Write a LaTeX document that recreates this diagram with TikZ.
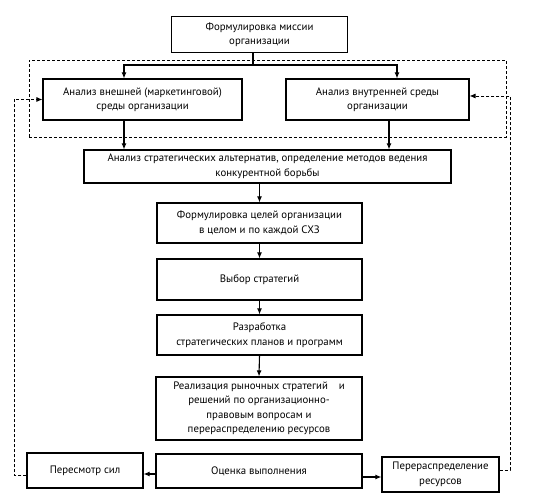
\documentclass[tikz,border=0pt]{standalone}
\usepackage{fontspec}
\setmainfont{PT Sans}
\usetikzlibrary{arrows.meta}
\begin{document}
\begin{tikzpicture}[x=1pt,y=-1pt,
  box/.style={draw, line width=1.1pt, align=center, inner sep=1pt,
    font=\fontsize{10.8}{14.5}\selectfont},
  arr/.style={line width=1.1pt, -{Latex[length=6pt,width=5pt]}},
  ln/.style={line width=1.1pt},
  fb/.style={line width=0.9pt, dash pattern=on 3pt off 2pt, -{Latex[length=6pt,width=5pt]}},
  grpbox/.style={draw, line width=0.9pt, dash pattern=on 3pt off 2pt}]
\useasboundingbox (0,0) rectangle (536,502);
\node[grpbox, minimum width=477pt, minimum height=77pt] (grp) at (267.5,98.5) {};
\node[box, minimum width=176pt, minimum height=36pt] (mission) at (259.5,34.5) {Формулировка миссии\\организации};
\node[box, minimum width=199pt, minimum height=41pt] (ext) at (142.5,99.5) {Анализ внешней (маркетинговой)\\среды организации};
\node[box, minimum width=183pt, minimum height=41pt] (int) at (377.5,99.5) {Анализ внутренней среды\\организации};
\node[box, minimum width=367pt, minimum height=33pt] (big) at (267.5,166.5) {Анализ стратегических альтернатив, определение методов ведения\\конкурентной борьбы};
\node[box, minimum width=205pt, minimum height=40pt] (goals) at (259.5,223) {Формулировка целей организации\\в целом и по каждой СХЗ};
\node[box, minimum width=205pt, minimum height=41pt] (choice) at (259.5,279.5) {Выбор стратегий};
\node[box, minimum width=205pt, minimum height=40pt] (plans) at (259.5,335) {Разработка\\стратегических планов и программ};
\node[box, minimum width=206pt, minimum height=63pt] (impl) at (259,408.5) {Реализация рыночных стратегий\quad и\\решений по организационно-\\правовым вопросам и\\перераспределению ресурсов};
\node[box, minimum width=206pt, minimum height=34pt] (eval) at (259,471) {Оценка выполнения};
\node[box, minimum width=116pt, minimum height=35pt] (review) at (85,470.5) {Пересмотр сил};
\node[box, minimum width=117pt, minimum height=35pt] (realloc) at (440.5,474.5) {Перераспределение\\ресурсов};
\coordinate (sp) at (253,65);
\coordinate (xl) at (124,65);
\coordinate (xr) at (397,65);
\coordinate (xr2) at (389,0);
\coordinate (fl) at (14,0);
\coordinate (fr) at (510,0);
\draw[ln] (mission.south -| sp) -- (sp);
\draw[arr] (sp) -- (xl) -- (ext.north -| xl);
\draw[arr] (sp) -- (xr) -- (int.north -| xr);
\draw[arr] (ext.south -| xl) -- (big.north -| xl);
\draw[arr] (int.south -| xr2) -- (big.north -| xr2);
\draw[arr] (big.south -| goals.north) -- (goals.north);
\draw[arr] (goals.south) -- (choice.north);
\draw[arr] (choice.south) -- (plans.north);
\draw[arr] (plans.south) -- (impl.north);
\draw[arr] ([yshift=-3pt]eval.west) -- ([yshift=-3pt]eval.west -| review.east);
\draw[arr] ([yshift=-6pt]eval.east) -- ([yshift=-6pt]eval.east -| realloc.west);
\draw[fb] ([yshift=-4.5pt]review.west) -| (fl |- ext.west) -- (ext.west);
\draw[fb] ([yshift=4.5pt]realloc.east) -| ([yshift=3.5pt]fr |- int.east) -- ([yshift=3.5pt]int.east);
\end{tikzpicture}
\end{document}
